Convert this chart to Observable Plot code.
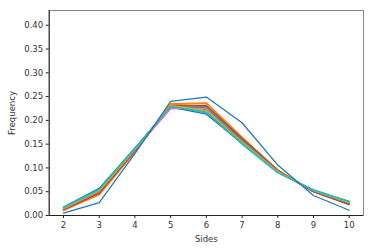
<!DOCTYPE html>
<html>
<head>
<meta charset="utf-8">
<script src="https://cdn.jsdelivr.net/npm/d3@7"></script>
<script src="https://cdn.jsdelivr.net/npm/@observablehq/plot@0.6"></script>
<style>
  html, body { margin: 0; padding: 0; background: #fff; }
  svg { display: block; }
</style>
</head>
<body>
<div id="chart"></div>
<script>
const sides = [2, 3, 4, 5, 6, 7, 8, 9, 10];
const xTicks = [2, 3, 4, 5, 6, 7, 8, 9, 10];
const yTicks = [0, 0.05, 0.10, 0.15, 0.20, 0.25, 0.30, 0.35, 0.40];

const run00 = [0.016, 0.055, 0.140, 0.230, 0.218, 0.153, 0.091, 0.053, 0.028];
const run01 = [0.011, 0.043, 0.133, 0.235, 0.237, 0.165, 0.095, 0.050, 0.025];
const run02 = [0.015, 0.052, 0.140, 0.231, 0.220, 0.155, 0.092, 0.053, 0.027];
const run03 = [0.012, 0.048, 0.137, 0.230, 0.228, 0.160, 0.094, 0.050, 0.024];
const run04 = [0.014, 0.051, 0.138, 0.226, 0.227, 0.158, 0.093, 0.051, 0.025];
const run05 = [0.013, 0.049, 0.137, 0.228, 0.229, 0.161, 0.095, 0.050, 0.024];
const run06 = [0.013, 0.050, 0.139, 0.224, 0.226, 0.158, 0.094, 0.051, 0.025];
const run07 = [0.014, 0.050, 0.138, 0.229, 0.230, 0.156, 0.092, 0.051, 0.026];
const run08 = [0.015, 0.053, 0.139, 0.232, 0.219, 0.154, 0.091, 0.052, 0.027];
const run09 = [0.017, 0.056, 0.141, 0.229, 0.216, 0.150, 0.090, 0.054, 0.030];
const run10 = [0.018, 0.057, 0.142, 0.228, 0.213, 0.152, 0.091, 0.052, 0.029];
const run11 = [0.010, 0.045, 0.134, 0.233, 0.235, 0.163, 0.096, 0.050, 0.024];
const run12 = [0.016, 0.054, 0.140, 0.230, 0.222, 0.155, 0.092, 0.053, 0.028];
const run13 = [0.012, 0.047, 0.136, 0.231, 0.230, 0.160, 0.094, 0.050, 0.023];
const run14 = [0.014, 0.051, 0.138, 0.227, 0.228, 0.157, 0.093, 0.051, 0.025];
const run15 = [0.013, 0.048, 0.137, 0.229, 0.231, 0.162, 0.095, 0.050, 0.024];
const run16 = [0.014, 0.050, 0.138, 0.225, 0.225, 0.157, 0.093, 0.052, 0.026];
const run17 = [0.015, 0.051, 0.139, 0.230, 0.228, 0.156, 0.092, 0.051, 0.026];
const run18 = [0.015, 0.052, 0.139, 0.231, 0.221, 0.154, 0.092, 0.053, 0.027];
const run19 = [0.017, 0.055, 0.141, 0.229, 0.217, 0.151, 0.090, 0.054, 0.029];
const run20 = [0.005, 0.027, 0.130, 0.240, 0.249, 0.195, 0.106, 0.042, 0.011];

const runs = [run00, run01, run02, run03, run04, run05, run06, run07, run08, run09,
              run10, run11, run12, run13, run14, run15, run16, run17, run18, run19, run20];

const tab10 = ["#1f77b4", "#ff7f0e", "#2ca02c", "#d62728", "#9467bd",
               "#8c564b", "#e377c2", "#7f7f7f", "#bcbd22", "#17becf"];

const data = runs.flatMap((vals, r) => vals.map((v, i) => ({run: r, side: sides[i], freq: v})));

const font = "DejaVu Sans, sans-serif";

const chart = Plot.plot({
  width: 374,
  height: 251,
  marginLeft: 48.7,
  marginRight: 11,
  marginTop: 10,
  marginBottom: 36,
  style: {fontFamily: font, fontSize: "8.5px", color: "#333", background: "#fff", overflow: "visible"},
  x: {domain: [1.6, 10.4]},
  y: {domain: [0, 0.431]},
  color: {type: "ordinal", domain: runs.map((_, i) => i), range: runs.map((_, i) => tab10[i % 10])},
  marks: [
    Plot.line(data, {x: "side", y: "freq", z: "run", stroke: "run", strokeWidth: 1.25}),
    Plot.frame({stroke: "#888", strokeWidth: 1}),
    Plot.axisX({ticks: xTicks, tickSize: 3, tickPadding: 3, tickFormat: d => String(d),
      label: "Sides", labelAnchor: "center", labelArrow: "none", labelOffset: 26, stroke: "#222"}),
    Plot.axisY({ticks: yTicks, tickSize: 3, tickPadding: 3, tickFormat: d3.format(".2f"),
      label: "Frequency", labelAnchor: "center", labelArrow: "none", labelOffset: 40, stroke: "#222"}),
    Plot.ruleX([1.6], {stroke: "#222", strokeWidth: 1}),
    Plot.ruleY([0], {stroke: "#222", strokeWidth: 1})
  ]
});

document.getElementById("chart").appendChild(chart);
</script>
</body>
</html>
